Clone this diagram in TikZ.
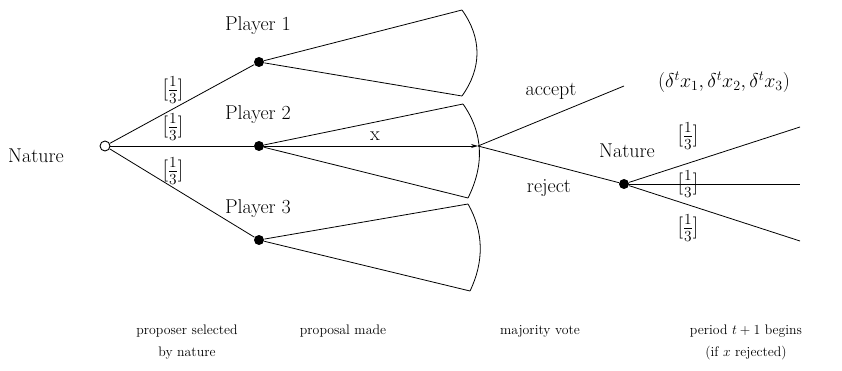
\RequirePackage{fix-cm}
\documentclass[tikz,border=0pt]{standalone}
\usetikzlibrary{arrows.meta}
\begin{document}
\begin{tikzpicture}[x=1pt,y=-1pt,
  line width=0.8pt,
  dec/.style={circle,fill=black,inner sep=0pt,minimum size=10pt},
  chance/.style={circle,draw,fill=white,inner sep=0pt,minimum size=10pt,line width=0.9pt},
  lab/.style={font=\fontsize{20}{24}\selectfont,inner sep=0pt},
  frac/.style={font=\fontsize{22}{26}\selectfont,inner sep=0pt},
  bot/.style={font=\fontsize{13.8}{22}\selectfont,inner sep=0pt,align=center}]
\useasboundingbox (0,0) rectangle (842,371);

% nodes
\node[chance] (n0) at (105,146) {};
\node[dec] (p1) at (259,62) {};
\node[dec] (p2) at (259,146) {};
\node[dec] (p3) at (259,240) {};
\node[dec] (n1) at (624,184) {};

% end coordinates
\coordinate (a1) at (462,10);
\coordinate (b1) at (462,96);
\coordinate (a2) at (463,104);
\coordinate (b2) at (468,198);
\coordinate (a3) at (468,204);
\coordinate (b3) at (470,291);
\coordinate (v) at (478,146);
\coordinate (acc) at (624,86);
\coordinate (r1) at (800,127);
\coordinate (r2) at (800,184);
\coordinate (r3) at (800,241);

% nature branches
\draw (n0) -- (p1);
\draw (n0) -- (p2);
\draw (n0) -- (p3);

% proposal fans
\draw (p1) -- (a1);
\draw (p1) -- (b1);
\draw (a1) .. controls (482,38) and (482,68) .. (b1);
\draw (p2) -- (a2);
\draw (p2) -- (b2);
\draw (a2) .. controls (484,134) and (484,166) .. (b2);
\draw (p3) -- (a3);
\draw (p3) -- (b3);
\draw (a3) .. controls (484,232) and (484,262) .. (b3);
\draw[-{Stealth[length=7pt,width=4pt]}] (p2) -- (v);

% vote
\draw (v) -- (acc);
\draw (v) -- (n1);

% next period
\draw (n1) -- (r1);
\draw[line width=0.5pt] (n1) -- (r2);
\draw (n1) -- (r3);

% labels
\node[lab] (tN) at (36,156) {Nature};
\node[lab] (tP1) at (258,26) {Player 1};
\node[lab] (tP2) at (258,115) {Player 2};
\node[lab] (tP3) at (258,209) {Player 3};
\node[frac] (q1) at (173,90) {$[\frac{1}{3}]$};
\node[frac] (q2) at (173,127) {$[\frac{1}{3}]$};
\node[frac] (q3) at (173,171) {$[\frac{1}{3}]$};
\node[lab] (tx) at (375,136) {x};
\node[lab] (tacc) at (551,91) {accept};
\node[lab] (trej) at (549,188) {reject};
\node[lab] (pay) at (724,82) {$(\delta^t x_1,\delta^t x_2,\delta^t x_3)$};
\node[lab] (tN2) at (627,151) {Nature};
\node[frac] (s1) at (688,136) {$[\frac{1}{3}]$};
\node[frac] (s2) at (688,184) {$[\frac{1}{3}]$};
\node[frac] (s3) at (688,228) {$[\frac{1}{3}]$};

% bottom stage labels
\node[bot] (b1t) at (187,342) {proposer selected\\by nature};
\node[bot] (b2t) at (343,331) {proposal made};
\node[bot] (b3t) at (540,331) {majority vote};
\node[bot] (b4t) at (746,342) {period $t+1$ begins\\(if $x$ rejected)};
\end{tikzpicture}
\end{document}
